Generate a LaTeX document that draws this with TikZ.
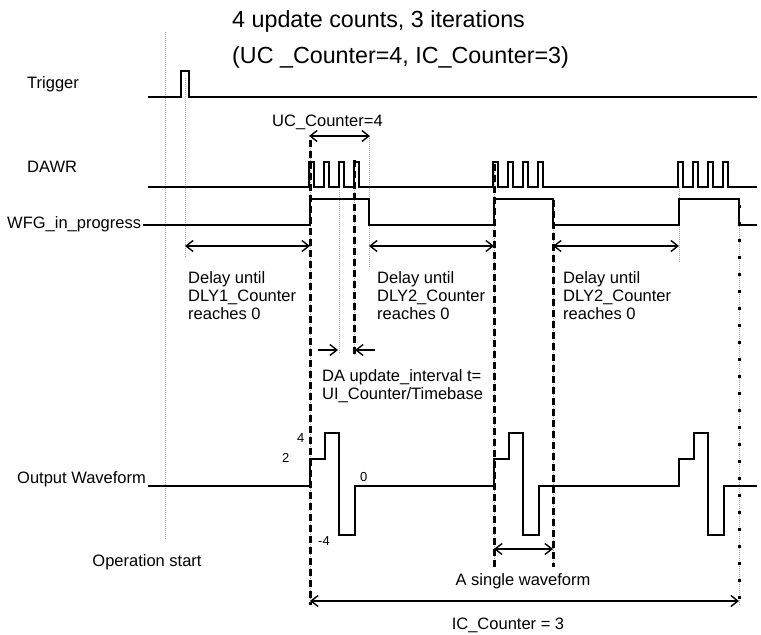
\documentclass[tikz,border=0pt]{standalone}
\usepackage{fontspec}
\setmainfont{Liberation Sans}
\usetikzlibrary{arrows.meta}
\begin{document}
\begin{tikzpicture}[x=1pt,y=-1pt,
  sig/.style={line width=1.8pt, line join=miter},
  dimarrow/.style={line width=1.4pt, {Straight Barb[length=7pt,width=11pt]}-{Straight Barb[length=7pt,width=11pt]}},
  onearrow/.style={line width=1.4pt, -{Straight Barb[length=7pt,width=11pt]}},
  guide/.style={gray!70, line width=0.8pt, dash pattern=on 1pt off 1pt},
  bigdash/.style={line width=3pt, dash pattern=on 7pt off 4pt},
  sparsedash/.style={line width=3pt, dash pattern=on 3pt off 14pt},
  lbl/.style={font=\fontsize{16.5}{17.7}\selectfont, inner sep=0pt, align=left},
  ttl/.style={font=\fontsize{23.3}{25}\selectfont, inner sep=0pt},
  lvl/.style={font=\fontsize{13}{14}\selectfont, inner sep=0pt}]
\useasboundingbox (0,0) rectangle (761,635);

% ---- guide lines (thin grey dotted)
\draw[guide] (165,32) -- (165,540);
\draw[guide] (185,78) -- (185,258);
\draw[guide] (369,136) -- (369,268);
\draw[guide] (339,190) -- (339,353);
\draw[guide] (679,187) -- (679,263);
\draw[guide] (310,140) -- (310,605);
\draw[guide] (354,160) -- (354,355);
\draw[guide] (494,162) -- (494,567);
\draw[guide] (553,200) -- (553,567);
\draw[guide] (739,200) -- (739,605);

% ---- thick dashed markers
\draw[bigdash] (310,140) -- (310,605);
\draw[bigdash] (354,160) -- (354,355);
\draw[bigdash] (494,164) -- (494,567);
\draw[bigdash] (553,200) -- (553,567);
\draw[sparsedash] (739,205) -- (739,605);

% ---- signals
\draw[sig] (148,97) -- (181,97) -- (181,71) -- (189,71) -- (189,97) -- (757,97);
\draw[sig] (148,187)
  foreach \p in {309,324,339,354,493,508,523,538,678,693,708,723}
  { -- (\p,187) -- (\p,162) -- ({\p+5},162) -- ({\p+5},187) }
  -- (757,187);
\draw[sig] (143,225) -- (310,225) -- (310,199) -- (369,199) -- (369,225)
  -- (494,225) -- (494,199) -- (553,199) -- (553,225)
  -- (679,225) -- (679,199) -- (739,199) -- (739,225) -- (757,225);
\draw[sig] (148,486)
  foreach \s in {310,494,679}
  { -- (\s,486) -- (\s,459) -- ({\s+15},459) -- ({\s+15},433) -- ({\s+29},433)
    -- ({\s+29},535) -- ({\s+45},535) -- ({\s+45},486) }
  -- (757,486);

% ---- labels
\node[ttl, anchor=base west] (t1) at (232,27) {4 update counts, 3 iterations};
\node[ttl, anchor=base west] (t2) at (232,63) {(UC \_Counter=4, IC\_Counter=3)};
\node[lbl, anchor=base west] (trig) at (27,88) {Trigger};
\node[lbl, anchor=base west] (dawr) at (27,172) {DAWR};
\node[lbl, anchor=base west] (wfg) at (7,228) {WFG\_in\_progress};
\node[lbl, anchor=base west] (outw) at (17,483) {Output Waveform};
\node[lbl, anchor=base] (opst) at (147,566) {Operation start};
\node[lbl, anchor=base west] (uc) at (272,126) {UC\_Counter=4};
\node[lbl, anchor=north west] (d1) at (188,271.5) {Delay until\\DLY1\_Counter\\reaches 0};
\node[lbl, anchor=north west] (d2) at (377,271.5) {Delay until\\DLY2\_Counter\\reaches 0};
\node[lbl, anchor=north west] (d3) at (563,271.5) {Delay until\\DLY2\_Counter\\reaches 0};
\node[lbl, anchor=north west] (da) at (322,369.5) {DA update\_interval t=\\UI\_Counter/Timebase};
\node[lbl, anchor=base] (single) at (523,585) {A single waveform};
\node[lbl, anchor=base] (ic) at (508,629) {IC\_Counter = 3};
\node[lvl, anchor=base west] (l4) at (297,442) {4};
\node[lvl, anchor=base west] (l2) at (282,462) {2};
\node[lvl, anchor=base west] (l0) at (360,481) {0};
\node[lvl, anchor=base west] (lm4) at (318,545) {-4};

% ---- arrows
\coordinate (ucA) at (309,136); \coordinate (ucB) at (370,136);
\draw[dimarrow] (ucA) -- (ucB);
\coordinate (a1) at (185,246); \coordinate (b1) at (310,246);
\coordinate (a2) at (369,246); \coordinate (b2) at (494,246);
\coordinate (a3) at (553,246); \coordinate (b3) at (679,246);
\draw[dimarrow] (a1) -- (b1);
\draw[dimarrow] (a2) -- (b2);
\draw[dimarrow] (a3) -- (b3);
\coordinate (uiA) at (318,350); \coordinate (uiB) at (338,350);
\coordinate (uiC) at (375,350); \coordinate (uiD) at (355,350);
\draw[onearrow] (uiA) -- (uiB);
\draw[onearrow] (uiC) -- (uiD);
\coordinate (swA) at (494,549); \coordinate (swB) at (553,549);
\draw[dimarrow] (swA) -- (swB);
\coordinate (icA) at (310,601); \coordinate (icB) at (739,601);
\draw[dimarrow] (icA) -- (icB);
\end{tikzpicture}
\end{document}
